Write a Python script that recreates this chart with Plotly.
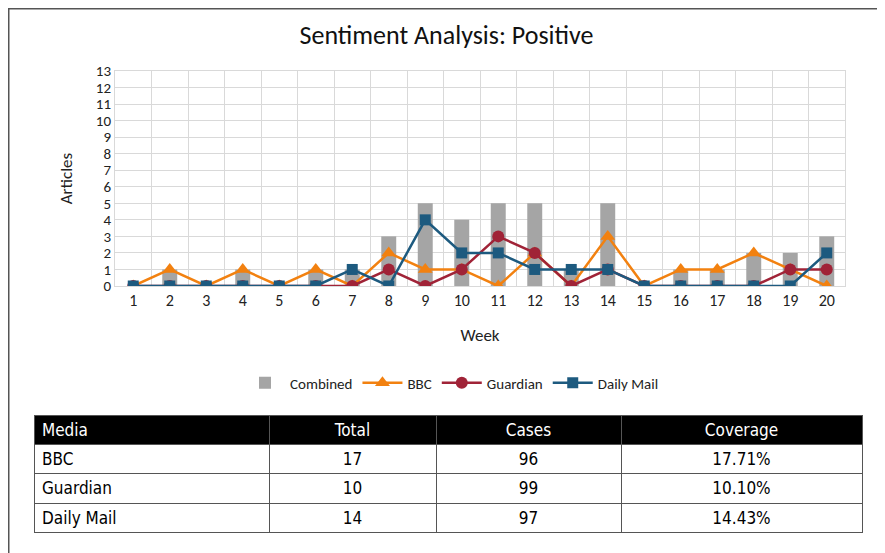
import plotly.graph_objects as go

# Data
weeks = [str(w) for w in range(1, 21)]
combined = [0, 1, 0, 1, 0, 1, 1, 3, 5, 4, 5, 5, 1, 5, 0, 1, 1, 2, 2, 3]
bbc = [0, 1, 0, 1, 0, 1, 0, 2, 1, 1, 0, 2, 0, 3, 0, 1, 1, 2, 1, 0]
guardian = [0, 0, 0, 0, 0, 0, 0, 1, 0, 1, 3, 2, 0, 1, 0, 0, 0, 0, 1, 1]
daily_mail = [0, 0, 0, 0, 0, 0, 1, 0, 4, 2, 2, 1, 1, 1, 0, 0, 0, 0, 0, 2]

table_header = ["Media", "Total", "Cases", "Coverage"]
media = ["BBC", "Guardian", "Daily Mail"]
totals = [17, 10, 14]
cases = [96, 99, 97]
coverage = ["17.71%", "10.10%", "14.43%"]

# page has an 8px body margin, so the figure is sized to fit the window
OFF = 8
W, H = 885 - OFF, 553 - OFF


def px(x):
    return (x - OFF) / W


def py(y):
    return 1 - (y - OFF) / H


chart_font = "Carlito, Calibri, Lato, sans-serif"
table_font = "Tahoma, 'DejaVu Sans Condensed', 'DejaVu Sans', sans-serif"

fig = go.Figure()

fig.add_trace(go.Bar(
    x=weeks, y=combined, name="Combined",
    marker=dict(color="#a5a5a5", line=dict(width=0)),
))
fig.add_trace(go.Scatter(
    x=weeks, y=bbc, name="BBC", mode="lines+markers",
    line=dict(color="#f28110", width=2.5),
    marker=dict(symbol="triangle-up", size=13, color="#f28110"),
))
fig.add_trace(go.Scatter(
    x=weeks, y=guardian, name="Guardian", mode="lines+markers",
    line=dict(color="#a02337", width=2.5),
    marker=dict(symbol="circle", size=12, color="#a02337"),
))
fig.add_trace(go.Scatter(
    x=weeks, y=daily_mail, name="Daily Mail", mode="lines+markers",
    line=dict(color="#1d5a7f", width=2.5),
    marker=dict(symbol="square", size=11, color="#1d5a7f"),
))

# Table under the chart
fig.add_trace(go.Table(
    domain=dict(x=[px(34), px(862)], y=[0.0, py(415)]),
    columnwidth=[235, 167, 185, 241],
    header=dict(
        values=table_header,
        fill_color="black",
        line=dict(color="#555555", width=1),
        font=dict(family=table_font, size=17, color="white"),
        align=["left", "center", "center", "center"],
        height=29,
    ),
    cells=dict(
        values=[media, totals, cases, coverage],
        fill_color="white",
        line=dict(color="#555555", width=1),
        font=dict(family=table_font, size=17, color="black"),
        align=["left", "center", "center", "center"],
        height=29.5,
    ),
))

fig.update_layout(
    width=W, height=H,
    margin=dict(l=0, r=0, t=0, b=0),
    paper_bgcolor="white", plot_bgcolor="white",
    font=dict(family=chart_font, color="#222222"),
    title=dict(text="Sentiment Analysis: Positive", x=0.5, xanchor="center",
               y=py(35), yanchor="middle", font=dict(size=26, color="#111111")),
    bargap=0.59,
    showlegend=True,
    legend=dict(orientation="h", x=px(452), xanchor="center", y=py(383), yanchor="middle",
                font=dict(size=15, color="#222222"), traceorder="normal", itemwidth=40),
    xaxis=dict(
        type="category", domain=[px(115), px(845)], range=[-0.5, 19.5],
        tickson="boundaries", automargin=False,
        showgrid=True, gridcolor="#d9d9d9", gridwidth=1,
        showline=True, linecolor="#d9d9d9", mirror=True,
        ticks="", tickfont=dict(size=16, color="#222222"),
        title=dict(text="Week", font=dict(size=17, color="#222222"), standoff=19),
    ),
    yaxis=dict(
        domain=[py(286), py(71)], range=[0, 13], dtick=1,
        automargin=False,
        showgrid=True, gridcolor="#d9d9d9", gridwidth=1,
        showline=True, linecolor="#d9d9d9", mirror=True,
        zeroline=False, ticks="", tickfont=dict(size=15, color="#222222"),
        title=dict(text="Articles", font=dict(size=17, color="#222222"), standoff=18),
    ),
    # outer frame: only the top and left edges are visible in the reference
    shapes=[
        dict(type="line", xref="paper", yref="paper", x0=0, x1=1.1, y0=1, y1=1,
             line=dict(color="#555555", width=3)),
        dict(type="line", xref="paper", yref="paper", x0=0, x1=0, y0=1, y1=-0.1,
             line=dict(color="#555555", width=3)),
    ],
)

fig.write_html("out.html")
